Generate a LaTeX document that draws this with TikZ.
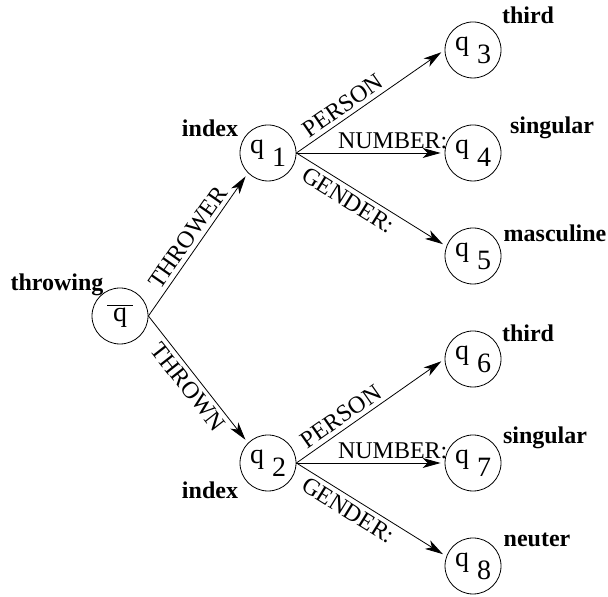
\documentclass[tikz,border=0pt]{standalone}
\usepackage{fontspec}
\setmainfont{Liberation Serif}
\usetikzlibrary{arrows.meta,positioning}

\newcommand{\qsub}[1]{q\raisebox{-6.5pt}{\hspace{4pt}#1}}

\begin{document}
\begin{tikzpicture}[x=5pt,y=5pt,
state/.style={circle,draw,minimum size=28pt,inner sep=0pt,font=\fontsize{14}{16}\selectfont},
lab/.style={font=\fontsize{12}{14}\selectfont\bfseries,inner sep=0pt},
arc/.style={-{Stealth[length=9pt,width=5pt,inset=2.5pt]},shorten >=2pt},
elab/.style={font=\fontsize{12}{14}\selectfont,sloped,inner sep=2pt}]
\useasboundingbox (0,0) rectangle (60.8,59.7);

\node[state] (Q0) at (12,28.1) {$\overline{\hbox{\hspace{3pt}q\hspace{3pt}}}$};
\node[state] (Q1) at (26.8,44.4) {\qsub{1}};
\node[state] (Q2) at (26.8,13.4) {\qsub{2}};
\node[state] (Q3) at (47.3,54.7) {\qsub{3}};
\node[state] (Q4) at (47.3,44.4) {\qsub{4}};
\node[state] (Q5) at (47.3,34.1) {\qsub{5}};
\node[state] (Q6) at (47.3,23.8) {\qsub{6}};
\node[state] (Q7) at (47.3,13.4) {\qsub{7}};
\node[state] (Q8) at (47.3,3.1) {\qsub{8}};

\node[lab] (L0) at (5.7,31.2) {throwing};
\node[lab] (L1) at (21,46.9) {index};
\node[lab] (L2) at (21,10.7) {index};
\node[lab] (L3) at (52.8,58.2) {third};
\node[lab] (L4) at (55.2,46.9) {singular};
\node[lab] (L5) at (55.5,36.4) {masculine};
\node[lab] (L6) at (52.8,26.4) {third};
\node[lab] (L7) at (54.5,15.9) {singular};
\node[lab] (L8) at (53.7,5.7) {neuter};

\draw[arc] (Q0.east)--(Q1.south west) node[elab,above,midway] {THROWER};
\draw[arc] (Q0.east)--(Q2.north west) node[elab,below,midway] {THROWN};

\draw[arc] (Q1.east)--(Q3.west) node[elab,above,pos=0.36] {PERSON};
\draw[arc] (Q1.east)--(Q4.west) node[elab,above,pos=0.65] {NUMBER:};
\draw[arc] (Q1.east)--(Q5.160) node[elab,below,pos=0.39] {GENDER:};
\draw[arc] (Q2.east)--(Q6.west) node[elab,above,pos=0.35] {PERSON};
\draw[arc] (Q2.east)--(Q7.west) node[elab,above,pos=0.65] {NUMBER:};
\draw[arc] (Q2.east)--(Q8.160) node[elab,below,pos=0.39] {GENDER:};
\end{tikzpicture}
\end{document}
